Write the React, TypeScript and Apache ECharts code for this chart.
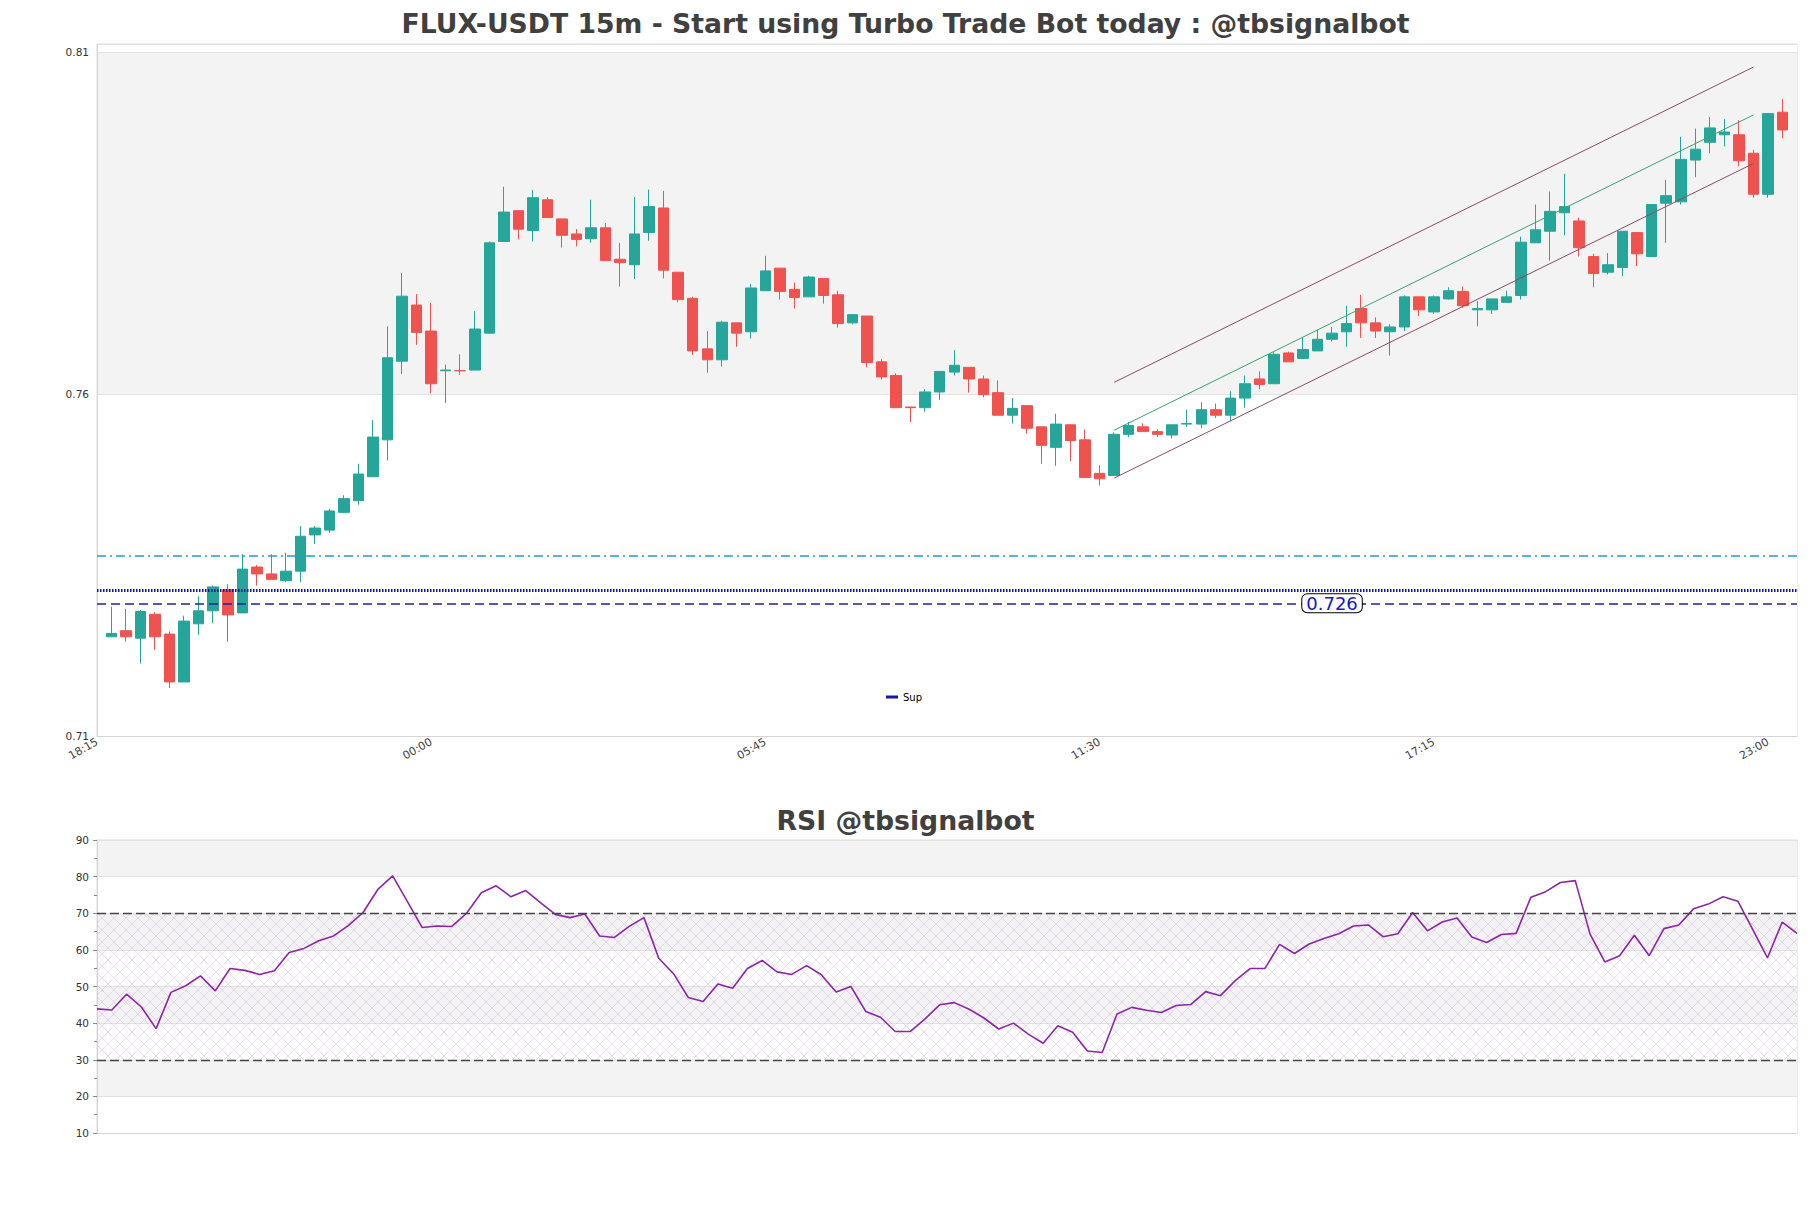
import React, { useEffect, useRef } from "react";
import * as echarts from "echarts";

const TITLE = "FLUX-USDT 15m - Start using Turbo Trade Bot today : @tbsignalbot";
const RSI_TITLE = "RSI @tbsignalbot";
const X_TICK_LABELS = ["18:15", "00:00", "05:45", "11:30", "17:15", "23:00"];
const X_TICK_EVERY = 23;
const START_TIME = "18:15";
const N_SLOTS = 118;

const OPEN = [0.7245,0.7254,0.7243,0.7278,0.7249,0.7179,0.7264,0.7283,0.7314,0.7280,
0.7347,0.7337,0.7327,0.7341,0.7394,0.7401,0.7427,0.7444,0.7479,0.7533,
0.7648,0.7730,0.7692,0.7634,0.7634,0.7635,0.7689,0.7823,0.7868,0.7839,
0.7884,0.7856,0.7834,0.7827,0.7843,0.7797,0.7789,0.7836,0.7872,0.7778,
0.7740,0.7666,0.7650,0.7704,0.7691,0.7751,0.7784,0.7753,0.7742,0.7769,
0.7745,0.7704,0.7714,0.7647,0.7627,0.7581,0.7580,0.7603,0.7632,0.7639,
0.7622,0.7602,0.7569,0.7583,0.7552,0.7522,0.7555,0.7533,0.7484,0.7481,
0.7541,0.7552,0.7545,0.7540,0.7556,0.7556,0.7577,0.7569,0.7594,0.7622,
0.7615,0.7660,0.7652,0.7663,0.7680,0.7691,0.7725,0.7704,0.7691,0.7698,
0.7742,0.7720,0.7739,0.7750,0.7723,0.7723,0.7734,0.7744,0.7821,0.7838,
0.7865,0.7853,0.7801,0.7778,0.7785,0.7836,0.7801,0.7879,0.7881,0.7942,
0.7968,0.7979,0.7979,0.7952,0.7892,0.8012];
const CLOSE = [0.7250,0.7245,0.7282,0.7245,0.7179,0.7268,0.7283,0.7318,0.7277,0.7344,
0.7337,0.7329,0.7341,0.7392,0.7404,0.7429,0.7447,0.7483,0.7537,0.7653,
0.7743,0.7690,0.7615,0.7635,0.7634,0.7695,0.7821,0.7866,0.7841,0.7887,
0.7858,0.7832,0.7826,0.7843,0.7795,0.7792,0.7834,0.7874,0.7781,0.7738,
0.7663,0.7650,0.7705,0.7689,0.7755,0.7780,0.7750,0.7741,0.7771,0.7744,
0.7703,0.7716,0.7646,0.7625,0.7580,0.7580,0.7603,0.7633,0.7642,0.7622,
0.7599,0.7569,0.7579,0.7550,0.7525,0.7556,0.7532,0.7478,0.7476,0.7541,
0.7554,0.7545,0.7541,0.7555,0.7557,0.7577,0.7569,0.7594,0.7615,0.7614,
0.7658,0.7647,0.7665,0.7680,0.7689,0.7703,0.7704,0.7692,0.7698,0.7742,
0.7723,0.7742,0.7751,0.7729,0.7725,0.7739,0.7742,0.7822,0.7840,0.7867,
0.7874,0.7814,0.7776,0.7789,0.7838,0.7805,0.7877,0.7890,0.7943,0.7958,
0.7989,0.7983,0.7941,0.7892,0.8010,0.7986];
const LOW = [0.7245,0.7238,0.7206,0.7226,0.7170,0.7179,0.7248,0.7265,0.7238,0.7280,
0.7320,0.7329,0.7325,0.7325,0.7381,0.7397,0.7426,0.7438,0.7479,0.7503,
0.7629,0.7672,0.7601,0.7587,0.7628,0.7635,0.7688,0.7823,0.7826,0.7823,
0.7858,0.7814,0.7816,0.7821,0.7795,0.7757,0.7768,0.7824,0.7769,0.7734,
0.7657,0.7631,0.7640,0.7669,0.7681,0.7751,0.7738,0.7725,0.7742,0.7732,
0.7697,0.7702,0.7639,0.7621,0.7580,0.7559,0.7574,0.7591,0.7627,0.7602,
0.7595,0.7569,0.7557,0.7542,0.7498,0.7495,0.7502,0.7478,0.7466,0.7481,
0.7537,0.7545,0.7537,0.7535,0.7552,0.7550,0.7565,0.7560,0.7580,0.7607,
0.7615,0.7647,0.7652,0.7663,0.7677,0.7669,0.7682,0.7682,0.7656,0.7692,
0.7714,0.7717,0.7738,0.7726,0.7699,0.7717,0.7734,0.7738,0.7821,0.7795,
0.7832,0.7801,0.7756,0.7775,0.7772,0.7787,0.7801,0.7821,0.7877,0.7917,
0.7952,0.7962,0.7933,0.7887,0.7887,0.7974];
const HIGH = [0.7289,0.7286,0.7284,0.7281,0.7253,0.7276,0.7304,0.7320,0.7322,0.7366,
0.7350,0.7366,0.7368,0.7407,0.7407,0.7432,0.7452,0.7498,0.7562,0.7699,
0.7777,0.7746,0.7733,0.7643,0.7658,0.7721,0.7823,0.7903,0.7869,0.7898,
0.7888,0.7856,0.7841,0.7884,0.7850,0.7821,0.7888,0.7899,0.7897,0.7778,
0.7742,0.7692,0.7707,0.7704,0.7761,0.7802,0.7784,0.7763,0.7773,0.7769,
0.7751,0.7717,0.7714,0.7651,0.7630,0.7581,0.7607,0.7633,0.7664,0.7639,
0.7627,0.7620,0.7594,0.7583,0.7552,0.7571,0.7555,0.7548,0.7496,0.7544,
0.7559,0.7557,0.7548,0.7555,0.7577,0.7588,0.7586,0.7604,0.7627,0.7633,
0.7661,0.7662,0.7682,0.7694,0.7698,0.7729,0.7745,0.7712,0.7702,0.7744,
0.7742,0.7744,0.7756,0.7757,0.7736,0.7739,0.7751,0.7830,0.7877,0.7896,
0.7922,0.7858,0.7805,0.7806,0.7838,0.7836,0.7877,0.7913,0.7976,0.7988,
0.8005,0.8002,0.8000,0.7957,0.8010,0.8031];

const RSI = [43.9,43.6,47.9,44.4,38.5,48.4,50.2,52.9,48.8,54.9,
54.4,53.3,54.3,59.3,60.4,62.5,63.8,66.6,70.2,76.5,
80.2,73.2,66.1,66.5,66.4,70.0,75.6,77.5,74.5,76.2,
72.9,69.7,68.8,69.8,63.8,63.4,66.4,68.8,57.7,53.5,
47.0,45.9,50.7,49.5,54.9,57.1,54.0,53.3,55.7,53.2,
48.5,50.0,43.2,41.6,37.7,37.7,41.1,45.0,
45.6,43.8,41.4,38.4,40.0,37.0,34.5,39.3,37.5,32.4,
32.0,42.5,44.3,43.5,42.9,44.8,45.1,48.6,47.5,51.6,
54.9,54.9,61.5,59.0,61.6,63.1,64.4,66.5,66.8,63.6,
64.4,70.2,65.2,67.6,68.7,63.5,62.0,64.2,64.5,74.4,
75.9,78.4,78.9,64.3,56.7,58.4,64.0,58.4,65.8,66.8,
71.2,72.5,74.5,73.3,65.6,57.8,67.6,64.5];

const SUP_LEVEL = 0.7313;
const DASH_LEVEL = 0.7294;
const CYAN_LEVEL = 0.7363;
const LEVEL_LABEL = "0.726";
const LEVEL_LABEL_AT = 85;
const CHANNEL_FROM = 70;
const CHANNEL_TO = 114;
const CH_UPPER = [0.7617, 0.8078];
const CH_MID = [0.7547, 0.8008];
const CH_LOWER = [0.7477, 0.7937];
const RSI_HIGH = 70;
const RSI_LOW = 30;

const FONT = "DejaVu Sans";

function buildCategories(): string[] {
  const [h0, m0] = START_TIME.split(":").map(Number);
  const out: string[] = [];
  for (let k = 0; k < N_SLOTS; k++) {
    const total = h0 * 60 + m0 + 15 * k;
    const day = Math.floor(total / 1440);
    const mm = total % 1440;
    const hh = String(Math.floor(mm / 60)).padStart(2, "0");
    const mi = String(mm % 60).padStart(2, "0");
    out.push(`d${day} ${hh}:${mi}`);
  }
  return out;
}

function makeHatch() {
  const c = document.createElement("canvas");
  c.width = 12;
  c.height = 12;
  const ctx = c.getContext("2d")!;
  ctx.strokeStyle = "rgba(190,150,215,0.4)";
  ctx.lineWidth = 0.8;
  ctx.beginPath();
  ctx.moveTo(0, 0);
  ctx.lineTo(12, 12);
  ctx.moveTo(12, 0);
  ctx.lineTo(0, 12);
  ctx.stroke();
  return c;
}

export default function App() {
  const ref = useRef<HTMLDivElement>(null);
  useEffect(() => {
    document.body.style.margin = "0";
    if (!ref.current) return;
    const chart = echarts.init(ref.current, undefined, { renderer: "svg" });
    const cats = buildCategories();
    const candles: any[] = [["-", "-", "-", "-"]];
    OPEN.forEach((o, i) => candles.push([o, CLOSE[i], LOW[i], HIGH[i]]));
    const rsiCats = RSI.map((_, i) => String(i));

    const chanLine = (pts: number[], color: string) => [
      { coord: [CHANNEL_FROM, pts[0]], lineStyle: { color, width: 1, type: "solid" } },
      { coord: [CHANNEL_TO, pts[1]] },
    ];

    const option: any = {
      animation: false,
      backgroundColor: "#ffffff",
      textStyle: { fontFamily: FONT },
      title: [
        {
          text: TITLE,
          left: "center",
          top: 5,
          textStyle: { fontFamily: FONT, fontWeight: "bold", fontSize: 26.7, color: "#404040" },
        },
        {
          text: RSI_TITLE,
          left: "center",
          top: 802,
          textStyle: { fontFamily: FONT, fontWeight: "bold", fontSize: 26.7, color: "#404040" },
        },
      ],
      legend: {
        data: ["Sup"],
        left: 881,
        top: 687,
        icon: "rect",
        itemWidth: 12,
        itemHeight: 3,
        textStyle: { fontFamily: FONT, fontSize: 10, color: "#000" },
      },
      grid: [
        { left: 97, top: 44, width: 1700, height: 692, show: true, borderColor: "#dcdcdc", borderWidth: 1 },
        { left: 97, top: 840, width: 1700, height: 293, show: true, borderColor: "#dcdcdc", borderWidth: 1 },
      ],
      xAxis: [
        {
          type: "category",
          gridIndex: 0,
          data: cats,
          boundaryGap: false,
          axisLine: { lineStyle: { color: "#d4d4d4" } },
          axisTick: { show: false },
          splitLine: { show: false },
          axisLabel: {
            rotate: 30,
            fontSize: 11,
            color: "#444",
            margin: 5,
            interval: (idx: number) => idx % X_TICK_EVERY === 0,
            formatter: (v: string) => {
              const t = v.slice(-5);
              return X_TICK_LABELS.includes(t) ? t : "";
            },
          },
        },
        {
          type: "category",
          gridIndex: 1,
          data: rsiCats,
          boundaryGap: false,
          axisLine: { lineStyle: { color: "#d4d4d4" } },
          axisTick: { show: false },
          axisLabel: { show: false },
          splitLine: { show: false },
        },
      ],
      yAxis: [
        {
          type: "value",
          gridIndex: 0,
          min: 0.71,
          max: 0.81117,
          interval: 0.05,
          axisLine: { show: true, lineStyle: { color: "#d4d4d4" } },
          axisTick: { show: false },
          axisLabel: {
            fontSize: 10.5,
            color: "#333",
            margin: 8,
            showMaxLabel: false,
            formatter: (v: number) => v.toFixed(2),
          },
          splitLine: { show: true, lineStyle: { color: "#e2e2e2" } },
          splitArea: { show: true, areaStyle: { color: ["#ffffff", "#f3f3f3"] } },
        },
        {
          type: "value",
          gridIndex: 1,
          min: 10,
          max: 90,
          interval: 10,
          axisLine: { show: true, lineStyle: { color: "#d4d4d4" } },
          axisTick: { show: true, length: 4, lineStyle: { color: "#888" } },
          minorTick: { show: true, splitNumber: 2, length: 3, lineStyle: { color: "#888" } },
          axisLabel: { fontSize: 10.5, color: "#333", margin: 8 },
          splitLine: { show: true, lineStyle: { color: "#e2e2e2" } },
          splitArea: { show: true, areaStyle: { color: ["#ffffff", "#f3f3f3"] } },
        },
      ],
      series: [
        {
          name: "Sup",
          type: "line",
          xAxisIndex: 0,
          yAxisIndex: 0,
          data: [],
          z: 2,
          color: "#1414b4",
          lineStyle: { color: "#1414b4" },
          markLine: {
            silent: true,
            precision: 6,
            symbol: ["none", "none"],
            label: { show: false },
            data: [
              { yAxis: CYAN_LEVEL, lineStyle: { color: "#239ad6", width: 1.5, type: [9, 4, 2, 4] } },
              { yAxis: SUP_LEVEL, lineStyle: { color: "#1010b4", width: 3, type: [1.5, 1.5] } },
              { yAxis: DASH_LEVEL, lineStyle: { color: "#2020a0", width: 1.5, type: [9, 5] } },
              chanLine(CH_UPPER, "#8e4a62"),
              chanLine(CH_MID, "#37a46e"),
              chanLine(CH_LOWER, "#8e4a62"),
            ],
          },
        },
        {
          name: "price",
          type: "candlestick",
          xAxisIndex: 0,
          yAxisIndex: 0,
          data: candles,
          z: 3,
          barWidth: 11,
          itemStyle: {
            color: "#26a69a",
            color0: "#ef5350",
            borderColor: "#26a69a",
            borderColor0: "#ef5350",
            borderWidth: 1,
          },
          markPoint: {
            silent: true,
            symbol: "rect",
            symbolSize: 0,
            data: [
              {
                coord: [LEVEL_LABEL_AT, DASH_LEVEL],
                label: {
                  show: true,
                  position: "inside",
                  formatter: LEVEL_LABEL,
                  fontFamily: FONT,
                  fontSize: 18,
                  color: "#1616cc",
                  backgroundColor: "#ffffff",
                  borderColor: "#000000",
                  borderWidth: 1,
                  borderRadius: 5,
                  padding: [0, 4, 0, 4],
                },
              },
            ],
          },
        },
        {
          name: "RSI",
          type: "line",
          xAxisIndex: 1,
          yAxisIndex: 1,
          data: RSI,
          symbol: "none",
          z: 3,
          lineStyle: { color: "#8e24aa", width: 1.6 },
          markLine: {
            silent: true,
            precision: 6,
            symbol: ["none", "none"],
            label: { show: false },
            lineStyle: { color: "#444", width: 1.3, type: [9, 4] },
            data: [{ yAxis: RSI_HIGH }, { yAxis: RSI_LOW }],
          },
          markArea: {
            silent: true,
            itemStyle: { color: { image: makeHatch(), repeat: "repeat" } },
            data: [[{ yAxis: RSI_LOW }, { yAxis: RSI_HIGH }]],
          },
        },
      ],
    };
    chart.setOption(option);
    return () => chart.dispose();
  }, []);
  return <div ref={ref} style={{ width: 1811, height: 1208 }} />;
}
